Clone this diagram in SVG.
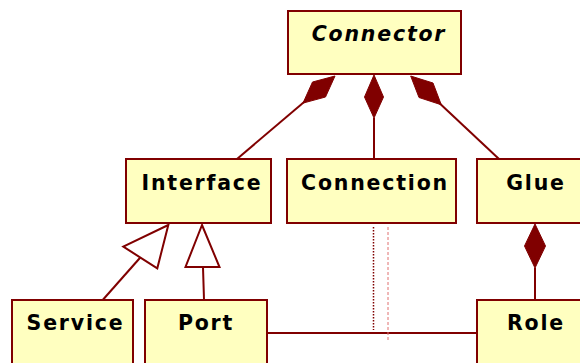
<svg xmlns="http://www.w3.org/2000/svg" width="580" height="363" viewBox="0 0 580 363">
<style>
.box{fill:#FFFFC0;stroke:#800000;stroke-width:2}
.lbl{font-family:"DejaVu Sans",Verdana,sans-serif;font-weight:bold;font-size:20.5px;letter-spacing:1.8px;fill:#000;text-anchor:middle}
.ln{stroke:#800000;stroke-width:2;fill:none}
.dia{fill:#800000;stroke:#800000;stroke-width:1}
.tri{fill:#fff;stroke:#800000;stroke-width:2}
</style>
<rect width="580" height="363" fill="#fff"/>
<g id="connectors">
<line class="ln" x1="310" y1="97" x2="237" y2="159"/>
<polygon class="dia" points="335,76 312.5,82 303,103.1 325.5,97"/>
<line class="ln" x1="374" y1="118" x2="374" y2="159"/>
<polygon class="dia" points="374,75 383.5,97 374,118 364.5,97"/>
<line class="ln" x1="435" y1="99" x2="499" y2="159"/>
<polygon class="dia" points="410.7,76 433,83 441.3,104.8 419,97.5"/>
<line class="ln" x1="535" y1="268" x2="535" y2="300"/>
<polygon class="dia" points="535,224 545.5,246 535,268 524.5,246"/>
<line class="ln" x1="140.3" y1="257.5" x2="102.7" y2="300"/>
<polygon class="tri" points="168.3,225 123.3,246.7 157.3,268.3"/>
<line class="ln" x1="203" y1="267" x2="204" y2="300"/>
<polygon class="tri" points="202,225 185.5,267 219.5,267"/>
<line class="ln" x1="267" y1="333" x2="477" y2="333"/>
<line x1="373.5" y1="227" x2="373.5" y2="330" stroke="#800000" stroke-width="1.5" stroke-dasharray="1.5 1.5"/>
<line x1="388" y1="227" x2="388" y2="340" stroke="#e07070" stroke-width="1" stroke-dasharray="3 2"/>
</g>
<g id="Connector">
<rect class="box" x="288" y="11" width="173" height="63"/>
<text class="lbl" x="379" y="41" font-style="italic">Connector</text>
</g>
<g id="Interface">
<rect class="box" x="126" y="159" width="145" height="64"/>
<text class="lbl" x="202" y="190">Interface</text>
</g>
<g id="Connection">
<rect class="box" x="287" y="159" width="169" height="64"/>
<text class="lbl" x="375" y="190">Connection</text>
</g>
<g id="Glue">
<rect class="box" x="477" y="159" width="112" height="64"/>
<text class="lbl" x="536" y="190">Glue</text>
</g>
<g id="Service">
<rect class="box" x="12" y="300" width="121" height="80"/>
<text class="lbl" x="75.5" y="330">Service</text>
</g>
<g id="Port">
<rect class="box" x="145" y="300" width="122" height="80"/>
<text class="lbl" x="206" y="330">Port</text>
</g>
<g id="Role">
<rect class="box" x="477" y="300" width="112" height="80"/>
<text class="lbl" x="536" y="330">Role</text>
</g>
</svg>
